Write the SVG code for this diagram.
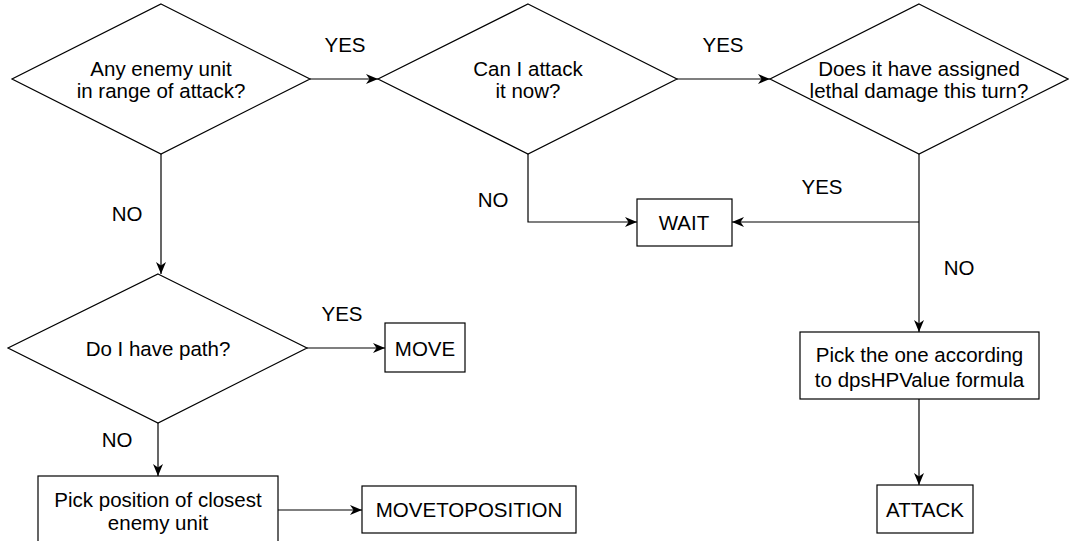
<svg xmlns="http://www.w3.org/2000/svg" width="1069" height="541" viewBox="0 0 1069 541">
<style>
.shape{fill:#ffffff;stroke:#000000;stroke-width:1.2;}
.t{font-family:"Liberation Sans",Arial,Helvetica,sans-serif;font-size:20.5px;fill:#000000;text-anchor:middle;}
.c{fill:none;stroke:#000000;stroke-width:1.2;}
</style>
<defs>
<marker id="arr" markerWidth="12" markerHeight="10" refX="12" refY="5" orient="auto" markerUnits="userSpaceOnUse" viewBox="0 0 12 10">
<path d="M0,0 L12,5 L0,10 L3.5,5 Z" fill="#000000"/>
</marker>
</defs>
<rect width="1069" height="541" fill="#ffffff"/>
<g id="connectors">
<path class="c" d="M310,79 L378,79" marker-end="url(#arr)"/>
<path class="c" d="M677,79 L770,79" marker-end="url(#arr)"/>
<path class="c" d="M161,154 L161,274" marker-end="url(#arr)"/>
<path class="c" d="M307,348 L385,348" marker-end="url(#arr)"/>
<path class="c" d="M158,423 L158,476" marker-end="url(#arr)"/>
<path class="c" d="M278,510 L362,510" marker-end="url(#arr)"/>
<path class="c" d="M528,154 L528,222 L637,222" marker-end="url(#arr)"/>
<path class="c" d="M919,154 L919,332" marker-end="url(#arr)"/>
<path class="c" d="M919,222 L732,222" marker-end="url(#arr)"/>
<path class="c" d="M919,399 L919,485" marker-end="url(#arr)"/>
<text class="t" x="345" y="52">YES</text>
<text class="t" x="723" y="52">YES</text>
<text class="t" x="127" y="221">NO</text>
<text class="t" x="342" y="321">YES</text>
<text class="t" x="117" y="447">NO</text>
<text class="t" x="493" y="207">NO</text>
<text class="t" x="822" y="194">YES</text>
<text class="t" x="959" y="275">NO</text>
</g>
<g id="d1">
<polygon class="shape" points="161,4 310,79 161,154 12,79"/>
<text class="t" x="161" y="76">Any enemy unit</text>
<text class="t" x="161" y="98">in range of attack?</text>
</g>
<g id="d2">
<polygon class="shape" points="528,4 677,79 528,154 378,79"/>
<text class="t" x="528" y="76">Can I attack</text>
<text class="t" x="528" y="98">it now?</text>
</g>
<g id="d3">
<polygon class="shape" points="919,4 1068,79 919,154 770,79"/>
<text class="t" x="919" y="76">Does it have assigned</text>
<text class="t" x="919" y="98">lethal damage this turn?</text>
</g>
<g id="d4">
<polygon class="shape" points="158,274 307,348 158,423 8,348"/>
<text class="t" x="158" y="356">Do I have path?</text>
</g>
<g id="move">
<rect class="shape" x="385" y="323" width="80" height="49"/>
<text class="t" x="425" y="356">MOVE</text>
</g>
<g id="wait">
<rect class="shape" x="637" y="199" width="95" height="47"/>
<text class="t" x="684" y="230">WAIT</text>
</g>
<g id="pickpos">
<rect class="shape" x="38" y="476" width="240" height="75"/>
<text class="t" x="158" y="507">Pick position of closest</text>
<text class="t" x="158" y="530">enemy unit</text>
</g>
<g id="movetoposition">
<rect class="shape" x="362" y="486" width="214" height="47"/>
<text class="t" x="469" y="517">MOVETOPOSITION</text>
</g>
<g id="pickone">
<rect class="shape" x="800" y="332" width="239" height="67"/>
<text class="t" x="919.5" y="362">Pick the one according</text>
<text class="t" x="919.5" y="387">to dpsHPValue formula</text>
</g>
<g id="attack">
<rect class="shape" x="877" y="485" width="96" height="48"/>
<text class="t" x="925" y="517">ATTACK</text>
</g>
</svg>
